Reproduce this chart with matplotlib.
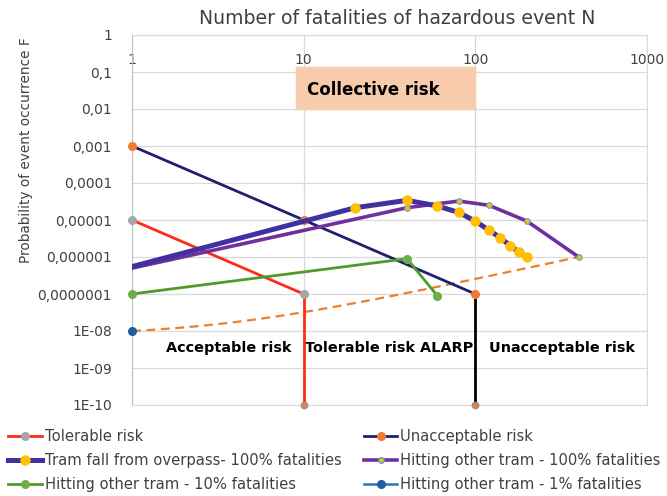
import numpy as np
import matplotlib
matplotlib.use('Agg')
import matplotlib.pyplot as plt
from matplotlib.patches import Rectangle
from matplotlib.lines import Line2D

plt.rcParams['font.family'] = ['DejaVu Sans']

# data
tol_N = [1, 10]
tol_F = [1e-5, 1e-7]

unacc_N = [1, 10, 100]
unacc_F = [1e-3, 1e-5, 1e-7]

# vertical limits at N=10 (red) and N=100 (black)
limit_N = [10, 100]
limit_top = [1e-7, 1e-7]
limit_bottom = [1e-10, 1e-10]

tram_fall_N = [1, 20, 40, 60, 80, 100, 120, 140, 160, 180, 200]
tram_fall_F = [5.5e-7, 2.15e-5, 3.4e-5, 2.4e-5, 1.6e-5, 9.3e-6, 5.3e-6, 3.3e-6, 2.0e-6, 1.35e-6, 1.0e-6]

hit100_N = [1, 40, 80, 120, 200, 400]
hit100_F = [5e-7, 2.15e-5, 3.25e-5, 2.5e-5, 9.3e-6, 1.0e-6]

hit10_N = [1, 40, 60]
hit10_F = [1e-7, 9e-7, 9e-8]

hit1_N = [1]
hit1_F = [1e-8]

# end points of the linear trend (dashed orange)
trend_N = [1, 400]
trend_F = [1e-8, 1e-6]

x_ticks = [1, 10, 100, 1000]
x_tick_labels = ['1', '10', '100', '1000']
y_ticks = [1, 1e-1, 1e-2, 1e-3, 1e-4, 1e-5, 1e-6, 1e-7, 1e-8, 1e-9, 1e-10]
y_tick_labels = ['1', '0,1', '0,01', '0,001', '0,0001', '0,00001', '0,000001',
                 '0,0000001', '1E-08', '1E-09', '1E-10']

W, H = 667, 496
fig = plt.figure(figsize=(W/100, H/100), dpi=100)
ax = fig.add_axes([132/W, 1-405/H, (647-132)/W, (405-35)/H])
ax.set_xscale('log')
ax.set_yscale('log')
ax.set_xlim(1, 1000)
ax.set_ylim(1e-10, 1)

ax.set_xticks(x_ticks)
ax.set_xticklabels(x_tick_labels)
ax.set_yticks(y_ticks)
ax.set_yticklabels(y_tick_labels)
ax.minorticks_off()
ax.grid(True, color='#d9d9d9', lw=0.9)
ax.set_axisbelow(True)
for s in ax.spines.values():
    s.set_color('#d9d9d9')
ax.spines['left'].set_color('#bfbfbf')
ax.xaxis.set_ticks_position('top')
ax.tick_params(axis='x', length=0, pad=-23, labeltop=True, labelbottom=False,
               labelsize=10, colors='#404040')
ax.tick_params(axis='y', length=0, pad=14.5, labelsize=9.9, colors='#404040')

# collective risk box
ax.add_patch(Rectangle((9.0, 0.01), 100-9.0, 0.135-0.01, color='#f8cbad', zorder=1))
ax.text(10.5, 0.033, 'Collective risk', fontsize=12, fontweight='bold', va='center')

# linear trend between the 1% end points
coef = np.polyfit(trend_N, trend_F, 1)
nn = np.geomspace(trend_N[0], trend_N[-1], 200)
ax.plot(nn, np.polyval(coef, nn), color='#ed7d31', lw=1.6, ls=(0, (4, 2.5)), zorder=3)

ax.plot([limit_N[0]] * 2, [limit_top[0], limit_bottom[0]], color='#ff2a1a', lw=2, zorder=4)
ax.plot([limit_N[1]] * 2, [limit_top[1], limit_bottom[1]], color='black', lw=2, zorder=4)
ax.plot(limit_N, limit_bottom, ls='none', marker='o', ms=5, color='#ed7d31',
        mec='#5b9bd5', mew=0.6, zorder=6, clip_on=False)

ax.plot(tol_N, tol_F, color='#ff2a1a', lw=2, marker='o', ms=5.5, mfc='#a6a6a6',
        mec='#a6a6a6', zorder=5, clip_on=False)
ax.plot(unacc_N, unacc_F, color='#1f1f6e', lw=2, marker='o', ms=5.5, mfc='#ed7d31',
        mec='#ed7d31', zorder=5, clip_on=False)
ax.plot(hit10_N, hit10_F, color='#4e9a2a', lw=2, marker='o', ms=5.5, mfc='#70ad47',
        mec='#70ad47', zorder=5, clip_on=False)
ax.plot(hit100_N, hit100_F, color='#7030a0', lw=2.6, marker='o', ms=4, mfc='#ffc000',
        mec='#5b9bd5', mew=0.8, markevery=list(range(1, len(hit100_N))), zorder=5)
ax.plot(tram_fall_N, tram_fall_F, color='#4030a0', lw=3.6, marker='o', ms=6.5,
        mfc='#ffc000', mec='#ffc000', markevery=list(range(1, len(tram_fall_N))), zorder=6)
ax.plot(hit1_N, hit1_F, ls='none', marker='o', ms=5.5, color='#1f5f9f', zorder=6,
        clip_on=False)

# zone labels
ax.text(1.58, 3.5e-9, 'Acceptable risk', fontsize=10.4, fontweight='bold', va='center')
ax.text(10.2, 3.5e-9, 'Tolerable risk ALARP', fontsize=10.4, fontweight='bold', va='center')
ax.text(120, 3.5e-9, 'Unacceptable risk', fontsize=10.4, fontweight='bold', va='center')

fig.text(397.5/W, 1-24/H, 'Number of fatalities of hazardous event N', fontsize=13.6,
         color='#404040', ha='center', va='baseline')
fig.text(26/W, 1-150/H, 'Probability of event occurrence F', rotation=90,
         ha='center', va='center', fontsize=9.8, color='#404040')

handles = [
    Line2D([], [], color='#ff2a1a', lw=2, marker='o', ms=5.5, mfc='#a6a6a6', mec='#a6a6a6'),
    Line2D([], [], color='#4030a0', lw=3.6, marker='o', ms=6.5, mfc='#ffc000', mec='#ffc000'),
    Line2D([], [], color='#4e9a2a', lw=2, marker='o', ms=5.5, mfc='#70ad47', mec='#70ad47'),
    Line2D([], [], color='#1f1f6e', lw=2, marker='o', ms=5.5, mfc='#ed7d31', mec='#ed7d31'),
    Line2D([], [], color='#7030a0', lw=2.6, marker='o', ms=4, mfc='#ffc000', mec='#5b9bd5'),
    Line2D([], [], color='#2e75b6', lw=1.8, marker='o', ms=5.5, mfc='#1f5f9f', mec='#1f5f9f'),
]
labels = ['Tolerable risk', 'Tram fall from overpass- 100% fatalities',
          'Hitting other tram - 10% fatalities', 'Unacceptable risk',
          'Hitting other tram - 100% fatalities', 'Hitting other tram - 1% fatalities']
fig.legend(handles, labels, ncol=2, loc='upper left', bbox_to_anchor=(8/W, 1-429/H),
           frameon=False, fontsize=10.6, handlelength=2.3, handletextpad=0.2,
           columnspacing=1.5, labelspacing=0.6, borderaxespad=0, borderpad=0,
           labelcolor='#404040')

fig.savefig('out.png', dpi=100)
